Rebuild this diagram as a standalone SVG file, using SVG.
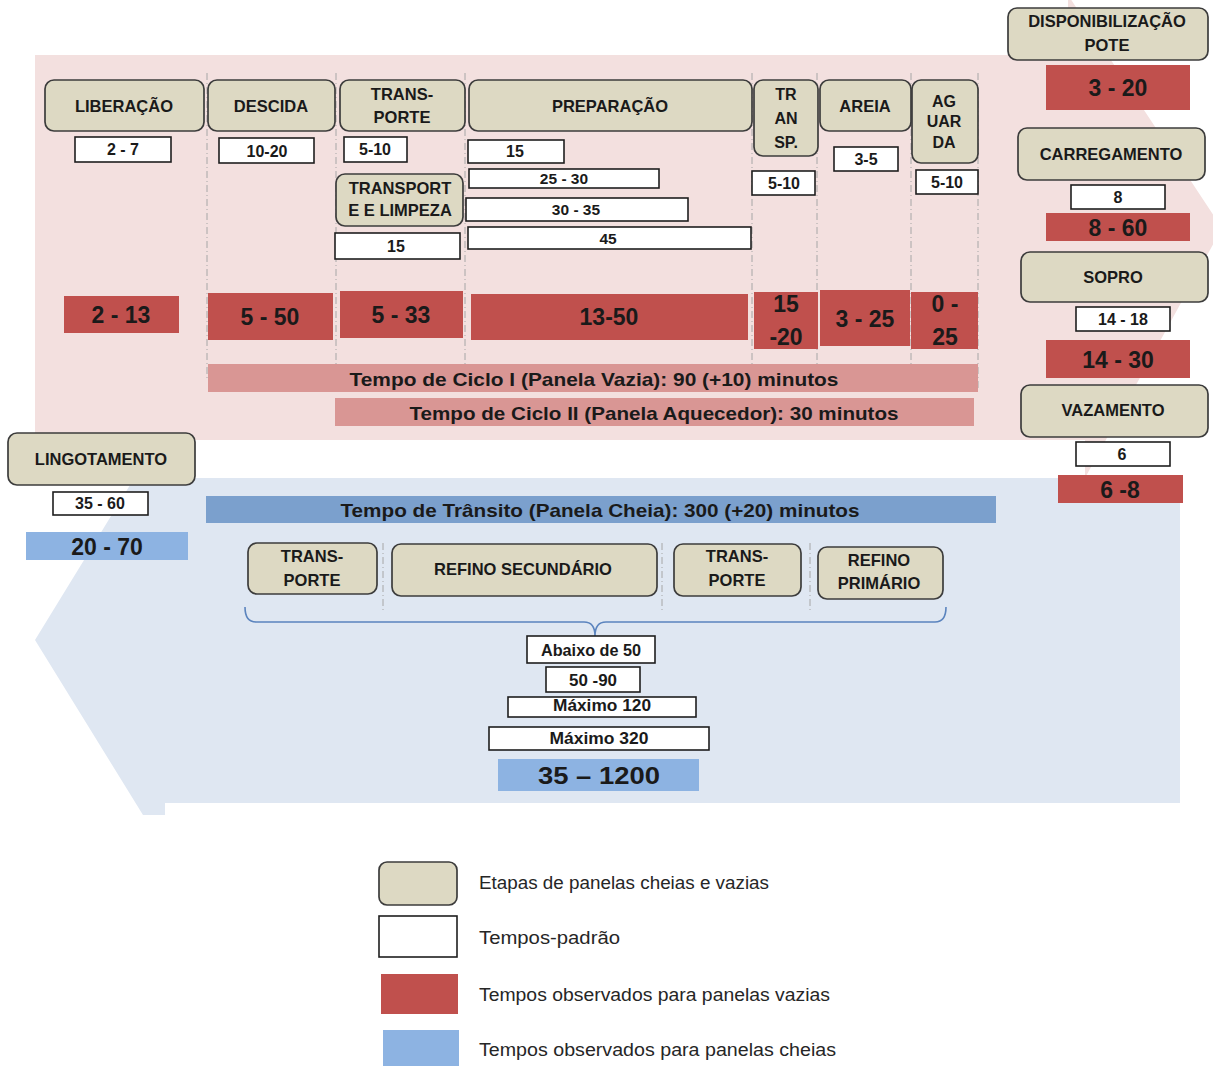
<svg xmlns="http://www.w3.org/2000/svg" width="1213" height="1066" viewBox="0 0 1213 1066">
  <style>
    .stage { fill: #DDD9C3; stroke: #3C3C3C; stroke-width: 1.7; }
    .std { fill: #FFFFFF; stroke: #1E1E1E; stroke-width: 1.6; }
    .obs { fill: #C0504D; }
    .obsB { fill: #8DB3E2; }
    .cyc { fill: #D99694; }
    .transit { fill: #7BA0CD; }
    .sep { stroke: #A6A6A6; stroke-width: 1; stroke-dasharray: 7 3 1 3; fill: none; }
    text { font-family: "Liberation Sans", Arial, sans-serif; fill: #1A1A1A; text-anchor: middle; dominant-baseline: central; }
    .lb { font-weight: bold; font-size: 16.5px; }
    .lbs { font-weight: bold; font-size: 16px; }
    .nm { font-weight: bold; font-size: 16px; }
    .nms { font-weight: bold; font-size: 15.5px; }
    .big { font-weight: bold; font-size: 23px; }
    .bar { font-weight: bold; font-size: 18.5px; }
    .nar { font-family: "Liberation Sans Narrow", "Liberation Sans", sans-serif; font-weight: bold; font-size: 16px; }
    .leg { font-size: 17.5px; text-anchor: start; fill: #262626; }
  </style>

  <!-- background flow arrows: empty ladles (right), full ladles (left) -->
  <g id="background">
    <polygon points="165,478 1180,478 1180,803 165,803 165,815 143,815 35,640 165,428" fill="#DFE7F2"/>
    <polygon points="35,55 1068,55 1068,-5 1222,228 1085,478 1085,440 35,440" fill="#F3E0DF"/>
  </g>

  <!-- column separators and the brace -->
  <g id="connectors">
    <line class="sep" x1="207" y1="73" x2="207" y2="378"/>
    <line class="sep" x1="336" y1="73" x2="336" y2="378"/>
    <line class="sep" x1="465" y1="73" x2="465" y2="378"/>
    <line class="sep" x1="752" y1="73" x2="752" y2="388"/>
    <line class="sep" x1="817" y1="73" x2="817" y2="388"/>
    <line class="sep" x1="911" y1="73" x2="911" y2="388"/>
    <line class="sep" x1="978" y1="73" x2="978" y2="388"/>
    <line class="sep" x1="383" y1="543" x2="383" y2="612"/>
    <line class="sep" x1="662" y1="543" x2="662" y2="612"/>
    <line class="sep" x1="810" y1="543" x2="810" y2="612"/>
    <path d="M245,607 Q245,622 256,622 L584,622 Q595,622 595,636 Q595,622 606,622 L935,622 Q946,622 946,607" fill="none" stroke="#5B84BE" stroke-width="1.6"/>
  </g>

  <!-- empty ladle stages -->
  <g id="liberacao">
    <rect class="stage" x="45" y="80" width="159" height="51" rx="9"/>
    <text class="lb" x="124" y="106">LIBERAÇÃO</text>
    <rect class="std" x="75" y="137" width="96" height="25"/>
    <text class="nm" x="123" y="149">2 - 7</text>
    <rect class="obs" x="64" y="296" width="115" height="37"/>
    <text class="big" x="121" y="315">2 - 13</text>
  </g>

  <g id="descida">
    <rect class="stage" x="208" y="80" width="127" height="51" rx="9"/>
    <text class="lb" x="271" y="106">DESCIDA</text>
    <rect class="std" x="219" y="138" width="95" height="25"/>
    <text class="nm" x="267" y="151">10-20</text>
    <rect class="obs" x="208" y="293" width="125" height="47"/>
    <text class="big" x="270" y="317">5 - 50</text>
  </g>

  <g id="transporte-1">
    <rect class="stage" x="340" y="80" width="125" height="51" rx="9"/>
    <text class="lb" x="402" y="94">TRANS-</text>
    <text class="lb" x="402" y="117">PORTE</text>
    <rect class="std" x="344" y="137" width="63" height="25"/>
    <text class="nm" x="375" y="149">5-10</text>
    <rect class="obs" x="340" y="291" width="123" height="47"/>
    <text class="big" x="401" y="315">5 - 33</text>
  </g>

  <g id="transporte-limpeza">
    <rect class="stage" x="336" y="174" width="127" height="52" rx="9"/>
    <text class="lb" x="400" y="188">TRANSPORT</text>
    <text class="lb" x="400" y="210">E E LIMPEZA</text>
    <rect class="std" x="335" y="233" width="125" height="26"/>
    <text class="nm" x="396" y="246">15</text>
  </g>

  <g id="preparacao">
    <rect class="stage" x="469" y="80" width="283" height="51" rx="9"/>
    <text class="lb" x="610" y="106">PREPARAÇÃO</text>
    <rect class="std" x="468" y="140" width="96" height="23"/>
    <text class="nm" x="515" y="151">15</text>
    <rect class="std" x="469" y="169" width="190" height="19"/>
    <text class="nms" x="564" y="178">25 - 30</text>
    <rect class="std" x="466" y="198" width="222" height="23"/>
    <text class="nms" x="576" y="209">30 - 35</text>
    <rect class="std" x="468" y="227" width="283" height="22"/>
    <text class="nms" x="608" y="238">45</text>
    <rect class="obs" x="471" y="294" width="277" height="46"/>
    <text class="big" x="609" y="317">13-50</text>
  </g>

  <g id="transporte-2">
    <rect class="stage" x="754" y="80" width="64" height="76" rx="9"/>
    <text class="lbs" x="786" y="94">TR</text>
    <text class="lbs" x="786" y="118">AN</text>
    <text class="lbs" x="786" y="142">SP.</text>
    <rect class="std" x="752" y="171" width="63" height="24"/>
    <text class="nm" x="784" y="183">5-10</text>
    <rect class="obs" x="754" y="292" width="64" height="57"/>
    <text class="big" x="786" y="304">15</text>
    <text class="big" x="786" y="337">-20</text>
  </g>

  <g id="areia">
    <rect class="stage" x="820" y="80" width="91" height="51" rx="9"/>
    <text class="lb" x="865" y="106">AREIA</text>
    <rect class="std" x="834" y="147" width="64" height="24"/>
    <text class="nm" x="866" y="159">3-5</text>
    <rect class="obs" x="820" y="290" width="90" height="56"/>
    <text class="big" x="865" y="319">3 - 25</text>
  </g>

  <g id="aguarda">
    <rect class="stage" x="912" y="80" width="66" height="83" rx="9"/>
    <text class="lbs" x="944" y="101">AG</text>
    <text class="lbs" x="944" y="121">UAR</text>
    <text class="lbs" x="944" y="142">DA</text>
    <rect class="std" x="916" y="170" width="62" height="24"/>
    <text class="nm" x="947" y="182">5-10</text>
    <rect class="obs" x="911" y="292" width="67" height="57"/>
    <text class="big" x="945" y="304">0 -</text>
    <text class="big" x="945" y="337">25</text>
  </g>

  <g id="ciclo-1">
    <rect class="cyc" x="208" y="364" width="770" height="28"/>
    <text class="bar" x="594" y="379" textLength="489" lengthAdjust="spacingAndGlyphs">Tempo de Ciclo  I (Panela Vazia): 90  (+10) minutos</text>
  </g>

  <g id="ciclo-2">
    <rect class="cyc" x="335" y="398" width="639" height="28"/>
    <text class="bar" x="654" y="413" textLength="489" lengthAdjust="spacingAndGlyphs">Tempo de Ciclo II (Panela Aquecedor): 30  minutos</text>
  </g>

  <!-- steel plant stages -->
  <g id="disponibilizacao">
    <rect class="stage" x="1008" y="8" width="200" height="52" rx="9"/>
    <text class="lb" x="1107" y="21">DISPONIBILIZAÇÃO</text>
    <text class="lb" x="1107" y="45">POTE</text>
    <rect class="obs" x="1046" y="65" width="144" height="45"/>
    <text class="big" x="1118" y="88">3 - 20</text>
  </g>

  <g id="carregamento">
    <rect class="stage" x="1018" y="128" width="187" height="52" rx="9"/>
    <text class="lb" x="1111" y="154">CARREGAMENTO</text>
    <rect class="std" x="1071" y="185" width="94" height="24"/>
    <text class="nm" x="1118" y="197">8</text>
    <rect class="obs" x="1046" y="213" width="144" height="28"/>
    <text class="big" x="1118" y="228">8 - 60</text>
  </g>

  <g id="sopro">
    <rect class="stage" x="1021" y="252" width="187" height="50" rx="9"/>
    <text class="lb" x="1113" y="277">SOPRO</text>
    <rect class="std" x="1076" y="307" width="94" height="24"/>
    <text class="nm" x="1123" y="319">14 - 18</text>
    <rect class="obs" x="1046" y="340" width="144" height="38"/>
    <text class="big" x="1118" y="360">14 - 30</text>
  </g>

  <g id="vazamento">
    <rect class="stage" x="1021" y="385" width="187" height="52" rx="9"/>
    <text class="lb" x="1113" y="410">VAZAMENTO</text>
    <rect class="std" x="1076" y="442" width="94" height="24"/>
    <text class="nm" x="1122" y="454">6</text>
    <rect class="obs" x="1058" y="475" width="125" height="28"/>
    <text class="big" x="1120" y="490">6 -8</text>
  </g>

  <!-- full ladle stages -->
  <g id="lingotamento">
    <rect class="stage" x="8" y="433" width="187" height="52" rx="9"/>
    <text class="lb" x="101" y="459">LINGOTAMENTO</text>
    <rect class="std" x="53" y="492" width="95" height="23"/>
    <text class="nm" x="100" y="503">35 - 60</text>
    <rect class="obsB" x="26" y="532" width="162" height="28"/>
    <text class="big" x="107" y="547">20 - 70</text>
  </g>

  <g id="transito">
    <rect class="transit" x="206" y="496" width="790" height="27"/>
    <text class="bar" x="600" y="510" textLength="519" lengthAdjust="spacingAndGlyphs">Tempo de Trânsito (Panela Cheia): 300  (+20) minutos</text>
  </g>

  <g id="transporte-3">
    <rect class="stage" x="248" y="543" width="129" height="51" rx="9"/>
    <text class="lb" x="312" y="556">TRANS-</text>
    <text class="lb" x="312" y="580">PORTE</text>
  </g>

  <g id="refino-secundario">
    <rect class="stage" x="392" y="544" width="265" height="52" rx="9"/>
    <text class="lb" x="523" y="569">REFINO SECUNDÁRIO</text>
  </g>

  <g id="transporte-4">
    <rect class="stage" x="674" y="544" width="127" height="52" rx="9"/>
    <text class="lb" x="737" y="556">TRANS-</text>
    <text class="lb" x="737" y="580">PORTE</text>
  </g>

  <g id="refino-primario">
    <rect class="stage" x="818" y="547" width="125" height="52" rx="9"/>
    <text class="lb" x="879" y="560">REFINO</text>
    <text class="lb" x="879" y="583">PRIMÁRIO</text>
  </g>

  <g id="tempos-transito">
    <rect class="std" x="527" y="636" width="128" height="27"/>
    <text class="nar" x="591" y="650" textLength="100" lengthAdjust="spacingAndGlyphs">Abaixo de 50</text>
    <rect class="std" x="546" y="667" width="94" height="25"/>
    <text class="nar" x="593" y="680" textLength="48" lengthAdjust="spacingAndGlyphs">50 -90</text>
    <rect class="std" x="508" y="697" width="188" height="20"/>
    <text class="nar" x="602" y="705" textLength="98" lengthAdjust="spacingAndGlyphs">Máximo 120</text>
    <rect class="std" x="489" y="727" width="220" height="23"/>
    <text class="nar" x="599" y="738" textLength="99" lengthAdjust="spacingAndGlyphs">Máximo 320</text>
    <rect class="obsB" x="498" y="759" width="201" height="32"/>
    <text class="big" x="599" y="776" textLength="122" lengthAdjust="spacingAndGlyphs">35 – 1200</text>
  </g>

  <!-- legend -->
  <g id="legenda">
    <rect class="stage" x="379" y="862" width="78" height="43" rx="8"/>
    <text class="leg" x="479" y="883" textLength="290" lengthAdjust="spacingAndGlyphs">Etapas de panelas cheias e vazias</text>
    <rect class="std" x="379" y="916" width="78" height="41"/>
    <text class="leg" x="479" y="938" textLength="141" lengthAdjust="spacingAndGlyphs">Tempos-padrão</text>
    <rect class="obs" x="381" y="974" width="77" height="40"/>
    <text class="leg" x="479" y="995" textLength="351" lengthAdjust="spacingAndGlyphs">Tempos observados para panelas vazias</text>
    <rect class="obsB" x="383" y="1030" width="76" height="40"/>
    <text class="leg" x="479" y="1050" textLength="357" lengthAdjust="spacingAndGlyphs">Tempos observados para panelas cheias</text>
  </g>
</svg>
